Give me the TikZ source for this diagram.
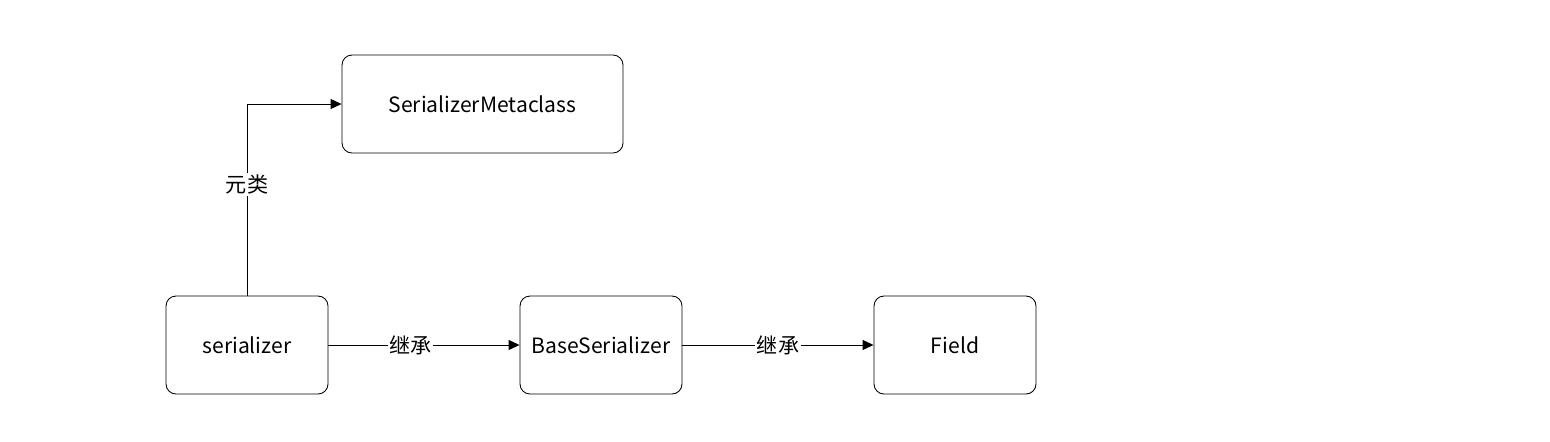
\documentclass[tikz,border=0pt]{standalone}
\usepackage{fontspec}
\setmainfont{Noto Sans CJK SC}
\usetikzlibrary{arrows.meta,positioning}

\begin{document}
\begin{tikzpicture}[every node/.style={font=\fontsize{12}{14}\selectfont},
  box/.style={draw, rounded corners=0.2cm, minimum width=3.24cm, minimum height=1.96cm, line width=0.5pt},
  link/.style={-{Triangle[length=0.22cm, width=0.2cm]}, line width=0.5pt},
  tag/.style={fill=white, inner sep=1pt}]
  \useasboundingbox (0,0) rectangle (31,8.82);
  \node[box, minimum width=5.62cm] (meta) at (9.65,6.74) {SerializerMetaclass};
  \node[box] (ser) at (4.94,1.92) {serializer};
  \node[box] (base) at (12.02,1.92) {BaseSerializer};
  \node[box] (field) at (19.1,1.92) {Field};
  % Arrows
  \draw[link] (ser.north) |- (meta.west) node[tag, pos=0.29] {元类};
  \draw[link] (ser.east) -- (base.west) node[tag, pos=0.43] {继承};
  \draw[link] (base.east) -- (field.west) node[tag, midway] {继承};
\end{tikzpicture}
\end{document}
